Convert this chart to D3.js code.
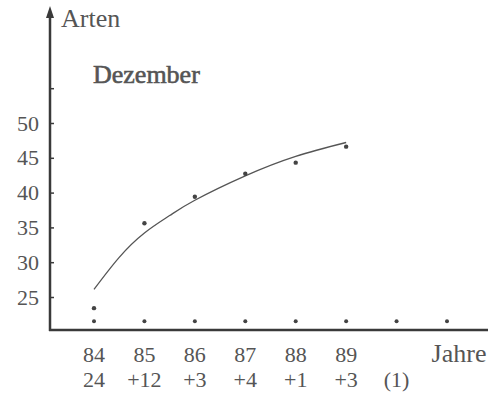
<!DOCTYPE html>
<html>
<head>
<meta charset="utf-8">
<script src="https://d3js.org/d3.v7.min.js"></script>
<style>
  body { margin: 0; background: white; }
  text { font-family: "Liberation Serif", serif; fill: #555; }
</style>
</head>
<body>
<svg width="498" height="396"></svg>
<script>
// positions along the year axis
var slots = ["84", "85", "86", "87", "88", "89", "x1", "x2"];
var yearLabels = ["84", "85", "86", "87", "88", "89", "", "Jahre"];
var newLabels = ["24", "+12", "+3", "+4", "+1", "+3", "(1)", ""];

// observed species counts (December)
var obsYears = ["84", "85", "86", "87", "88", "89"];
var obsValues = [23.4, 35.6, 39.4, 42.7, 44.3, 46.6];

// fitted curve (years after 84, species)
var curveYears = [0, 0.5, 1, 1.5, 2, 3, 4, 5];
var curveValues = [26.1, 30.7, 34.2, 36.7, 38.9, 42.4, 45.2, 47.2];

// row of dots just above the x axis
var rowValue = 21.5;

var yTicks = [25, 30, 35, 40, 45, 50, 55];

var svg = d3.select("svg");

var x = d3.scalePoint().domain(slots).range([94, 447]);
var step = x.step();
var y = d3.scaleLinear().domain([25, 50]).range([297, 123]);

var axisColor = "#3a3a3a";
var x0 = 50, yBase = 330;

// y axis ticks + labels
var yAxis = d3.axisLeft(y)
    .tickValues(yTicks)
    .tickSize(-4)
    .tickPadding(11)
    .tickFormat(function(d) { return d == 55 ? "" : d; });

var gy = svg.append("g")
    .attr("transform", "translate(" + x0 + ",0)")
    .call(yAxis);
gy.select(".domain").remove();
gy.selectAll(".tick line").attr("stroke", axisColor).attr("stroke-width", 1.5);
gy.selectAll(".tick text")
    .attr("font-family", "Liberation Serif, serif")
    .attr("font-size", 22)
    .attr("fill", "#555");

// axis lines
svg.append("line")
    .attr("x1", x0).attr("x2", x0)
    .attr("y1", yBase + 1).attr("y2", 14)
    .attr("stroke", axisColor).attr("stroke-width", 2.5);
svg.append("path")
    .attr("d", "M" + (x0 - 4) + ",18 L" + x0 + ",6 L" + (x0 + 4) + ",18 Z")
    .attr("fill", axisColor);
svg.append("line")
    .attr("x1", x0 - 1).attr("x2", 488)
    .attr("y1", yBase).attr("y2", yBase)
    .attr("stroke", axisColor).attr("stroke-width", 2.5);

// axis title
svg.append("text")
    .attr("x", 61).attr("y", 27)
    .attr("font-size", 26)
    .text("Arten");

svg.append("text")
    .attr("x", 93).attr("y", 83)
    .attr("font-size", 26)
    .attr("stroke", "#555")
    .attr("stroke-width", 0.6)
    .text("Dezember");

// x labels
svg.selectAll(".yr")
    .data(slots)
    .enter().append("text")
    .attr("class", "yr")
    .attr("x", function(d) { return x(d); })
    .attr("dx", function(d, i) { return i == 7 ? 12 : 0; })
    .attr("y", 362)
    .attr("text-anchor", "middle")
    .attr("font-size", function(d, i) { return i == 7 ? 26 : 22; })
    .text(function(d, i) { return yearLabels[i]; });

svg.selectAll(".nw")
    .data(slots)
    .enter().append("text")
    .attr("class", "nw")
    .attr("x", function(d) { return x(d); })
    .attr("y", 387)
    .attr("text-anchor", "middle")
    .attr("font-size", 22)
    .text(function(d, i) { return newLabels[i]; });

// fitted curve
var line = d3.line()
    .x(function(d) { return x("84") + d[0] * step; })
    .y(function(d) { return y(d[1]); })
    .curve(d3.curveNatural);

svg.append("path")
    .datum(curveYears.map(function(t, i) { return [t, curveValues[i]]; }))
    .attr("d", line)
    .attr("fill", "none")
    .attr("stroke", "#555")
    .attr("stroke-width", 1.3);

// observed points
svg.selectAll(".obs")
    .data(obsYears)
    .enter().append("circle")
    .attr("class", "obs")
    .attr("cx", function(d) { return x(d); })
    .attr("cy", function(d, i) { return y(obsValues[i]); })
    .attr("r", 2.2)
    .attr("fill", "#444");

// baseline row dots
svg.selectAll(".row")
    .data(slots)
    .enter().append("circle")
    .attr("class", "row")
    .attr("cx", function(d) { return x(d); })
    .attr("cy", y(rowValue))
    .attr("r", 2)
    .attr("fill", "#444");
</script>
</body>
</html>
